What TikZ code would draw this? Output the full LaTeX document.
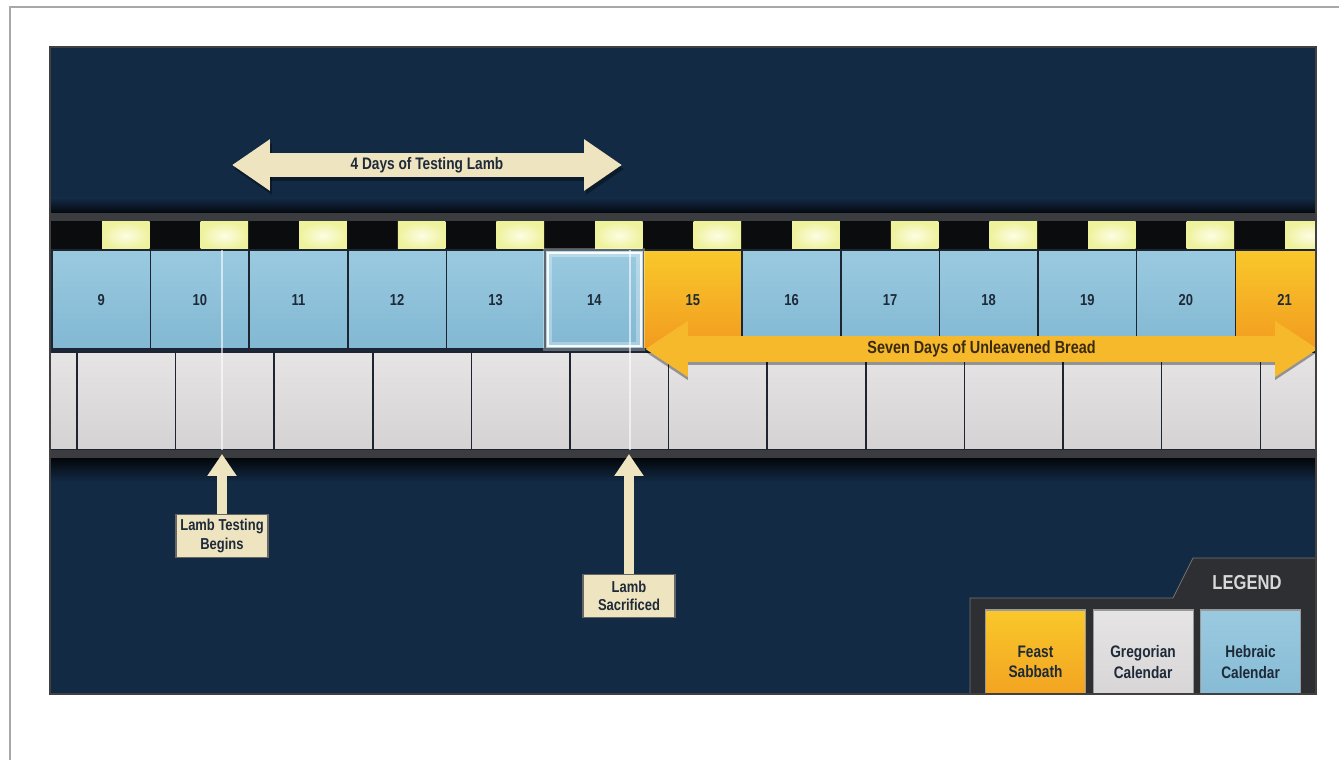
\documentclass[tikz,border=0pt]{standalone}
\usepackage{fontspec}
\newfontfamily\condfont[FakeStretch=0.82]{Liberation Sans}
\usetikzlibrary{arrows.meta,positioning}

\definecolor{bgnavy}{HTML}{132A45}
\definecolor{framegray}{HTML}{A8A8A8}
\definecolor{bandgray}{HTML}{3A3C40}
\definecolor{stripblack}{HTML}{0B0C0E}
\definecolor{lampcore}{HTML}{FDFDE4}
\definecolor{lampedge}{HTML}{EEF29C}
\definecolor{cellline}{HTML}{1E2430}
\definecolor{hebtop}{HTML}{9ACAE0}
\definecolor{hebbot}{HTML}{82B8D3}
\definecolor{feasttop}{HTML}{F9C82B}
\definecolor{feastbot}{HTML}{F29B1F}
\definecolor{gregtop}{HTML}{E6E4E4}
\definecolor{gregbot}{HTML}{D4D2D2}
\definecolor{cream}{HTML}{EEE4C0}
\definecolor{breadgold}{HTML}{F6B92C}
\definecolor{numink}{HTML}{1E2A38}
\definecolor{breadink}{HTML}{3A2A10}
\definecolor{legendgray}{HTML}{2E2F33}
\definecolor{legendtext}{HTML}{D8D8D8}

\tikzset{
  calcell/.style={draw=cellline, line width=0.8pt, minimum width=1.972cm,
    minimum height=1.98cm, inner sep=0pt, text=numink, text height=1.6ex, text depth=0pt,
    font=\condfont\bfseries\fontsize{9}{10}\selectfont},
  hebcell/.style={calcell, top color=hebtop, bottom color=hebbot},
  feastcell/.style={calcell, top color=feasttop, bottom color=feastbot},
  gregcell/.style={calcell, top color=gregtop, bottom color=gregbot, minimum height=1.96cm},
  markline/.style={white, opacity=0.6, line width=1pt},
  testarrow/.style={draw=cream, line width=0.5cm,
    {Triangle[width=0.98cm,length=0.76cm]}-{Triangle[width=0.98cm,length=0.76cm]}},
  breadarrow/.style={draw=breadgold, line width=0.52cm,
    {Triangle[width=1.06cm,length=0.86cm]}-{Triangle[width=1.06cm,length=0.86cm]}},
  uparrow/.style={draw=cream, line width=0.2cm, -{Triangle[width=0.56cm,length=0.44cm]}},
  bandtext/.style={font=\condfont\bfseries\fontsize{9.5}{11}\selectfont, text=numink},
  tagbox/.style={fill=cream, draw=black!60, line width=0.6pt, minimum width=1.84cm,
    minimum height=0.86cm, inner sep=1pt, align=center, text=numink,
    font=\condfont\bfseries\fontsize{9}{10.5}\selectfont},
  keybox/.style={draw=black!40, line width=0.6pt, minimum width=2cm, minimum height=2.08cm,
    inner sep=1pt, align=center, text=numink,
    font=\condfont\bfseries\fontsize{9.5}{11.5}\selectfont}
}

\begin{document}
\begin{tikzpicture}[x=0.02cm, y=-0.02cm]
\useasboundingbox (0,0) rectangle (1339,760);
\fill[white] (0,0) rectangle (1339,760);
\draw[framegray, line width=0.8pt] (10,760) -- (10,7) -- (1339,7);

% dark panel
\fill[bgnavy] (50,47) rectangle (1316,694);
\begin{scope}
  \clip (50,47) rectangle (1316,694);
  % calendar strip
  \shade[top color=bgnavy, bottom color=black!80!bgnavy] (50,198) rectangle (1316,213);
  \fill[bandgray] (50,213) rectangle (1316,221);
  \fill[stripblack] (50,221) rectangle (1316,250);
  \foreach \i in {0,...,12}
    \shade[inner color=lampcore, outer color=lampedge]
      ({102+98.6*\i},222) rectangle ({149.6+98.6*\i},249);

  % hebraic days
  \foreach \d/\s [count=\i from 0] in {9/hebcell, 10/hebcell, 11/hebcell, 12/hebcell,
      13/hebcell, 14/hebcell, 15/feastcell, 16/hebcell, 17/hebcell, 18/hebcell,
      19/hebcell, 20/hebcell, 21/feastcell}
    \node[\s] (h\d) at ({101.3+98.6*\i},299.5) {\d};

  % gregorian days
  \foreach \k in {-1,...,12}
    \node[gregcell] (g\k) at ({126.3+98.6*\k},401) {};
  \fill[bandgray] (50,450) rectangle (1316,458);
  \shade[top color=black!85!bgnavy, bottom color=bgnavy] (50,458) rectangle (1316,482);

  \draw[markline] (222,250) -- (222,450);
  \draw[markline] (630,250) -- (630,450);

  % highlight on day 14
  \draw[white, opacity=0.3, line width=5pt] ([shift={(2pt,-2pt)}]h14.north west) rectangle ([shift={(-2pt,2pt)}]h14.south east);
  \draw[white, opacity=0.9, line width=1.4pt] ([shift={(2pt,-2pt)}]h14.north west) rectangle ([shift={(-2pt,2pt)}]h14.south east);

  % seven days arrow
  \coordinate (breadL) at (645,349);
  \coordinate (breadR) at (1318,349);
  \draw[breadarrow, draw=black, opacity=0.35] ([shift={(0,3)}]breadL) -- ([shift={(0,3)}]breadR);
  \draw[breadarrow] (breadL) -- (breadR)
    node[midway, font=\condfont\bfseries\fontsize{10}{12}\selectfont, text=breadink] (breadtext) {Seven Days of Unleavened Bread};

  % legend
  \fill[legendgray, draw=black!55] (970,700) -- (970,598) -- (1173,598) -- (1193,558) -- (1318,558) -- (1318,700) -- cycle;
  \node[font=\condfont\bfseries\fontsize{11.5}{13}\selectfont, text=legendtext] (legendtitle) at (1247,583) {LEGEND};
  \node[keybox, top color=feasttop, bottom color=feastbot] (kfeast) at (1035.5,662) {Feast\\Sabbath};
  \node[keybox, top color=gregtop, bottom color=gregbot, right=0.13cm of kfeast] (kgreg) {Gregorian\\Calendar};
  \node[keybox, top color=hebtop, bottom color=hebbot, right=0.13cm of kgreg] (kheb) {Hebraic\\Calendar};
\end{scope}
\draw[black!75, line width=0.8pt] (50,47) rectangle (1316,694);

% four days arrow
\coordinate (testL) at (232,165);
\coordinate (testR) at (622,165);
\draw[testarrow, draw=black, opacity=0.35] ([shift={(2,4)}]testL) -- ([shift={(2,4)}]testR);
\draw[testarrow] (testL) -- (testR) node[midway, bandtext] (testtext) {4 Days of Testing Lamb};

% event markers
\node[tagbox] (begins) at (222,536) {Lamb Testing\\Begins};
\node[tagbox] (sacrificed) at (629,596) {Lamb\\Sacrificed};
\coordinate (beginsTip) at (222,454);
\coordinate (sacrTip) at (629,454);
\draw[uparrow] (begins.north) -- (beginsTip);
\draw[uparrow] (sacrificed.north) -- (sacrTip);
\end{tikzpicture}
\end{document}
